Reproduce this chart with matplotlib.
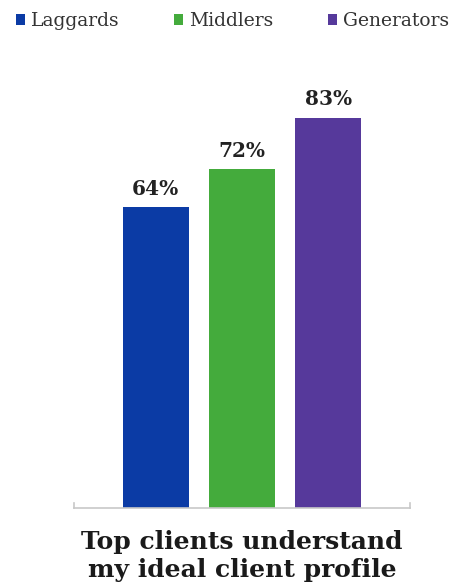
import matplotlib
matplotlib.use("Agg")
import matplotlib.pyplot as plt
import numpy as np

categories = ["Top clients understand\nmy ideal client profile"]
series = ["Laggards", "Middlers", "Generators"]
values = [64, 72, 83]
colors = ["#0B3BA5", "#44AB3C", "#56399B"]

plt.rcParams['font.family'] = ['DejaVu Serif']

W, H = 477, 588
fig = plt.figure(figsize=(W / 100, H / 100), dpi=100)
ax_left, ax_right = 74, 410
ax_bottom, ax_top = 508, 50
ax = fig.add_axes([ax_left / W, 1 - ax_bottom / H, (ax_right - ax_left) / W, (ax_bottom - ax_top) / H])

x = np.arange(len(categories))
offsets = [-1, 0, 1]
width = 0.76
for s, v, c, o in zip(series, values, colors, offsets):
    bars = ax.bar(x + o, [v], width=width, color=c, label=s)
    for b in bars:
        ax.annotate(f"{v}%", (b.get_x() + b.get_width() / 2, b.get_height()),
                    xytext=(0, 6), textcoords="offset points", ha="center", va="bottom",
                    fontsize=14.5, fontweight="bold", color="#222222")

ax.set_xlim(-1.95, 1.95)
ax.set_ylim(0, 97.4)
for sp in ["left", "right", "top"]:
    ax.spines[sp].set_visible(False)
ax.spines["bottom"].set_color("#c8c8c8")
ax.spines["bottom"].set_linewidth(1.2)
ax.set_yticks([])
ax.set_xticks(x)
ax.set_xticklabels(categories, fontsize=18, fontweight="bold", color="#1a1a1a", linespacing=1.2)
ax.tick_params(axis="x", length=0, pad=16)
# end tick marks of the axis line
ax.plot([0, 0], [0, 0.012], transform=ax.transAxes, color="#c8c8c8", lw=1.2, clip_on=False)
ax.plot([1, 1], [0, 0.012], transform=ax.transAxes, color="#c8c8c8", lw=1.2, clip_on=False)

fig.legend(loc="upper left", bbox_to_anchor=(0.01, 0.998), ncol=3, frameon=False,
           fontsize=13.5, handlelength=0.5, handleheight=0.5, handletextpad=0.3,
           columnspacing=2.9, borderaxespad=0.2, labelcolor="#333333")

fig.savefig("out.png", dpi=100)
